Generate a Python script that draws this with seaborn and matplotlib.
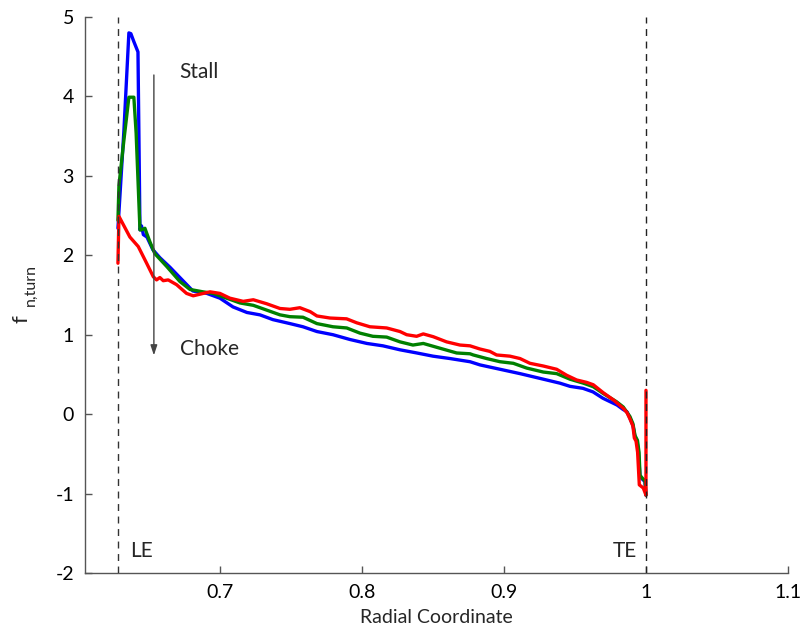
import numpy as np
import pandas as pd
import matplotlib
matplotlib.use("Agg")
import matplotlib.pyplot as plt
import seaborn as sns

# Normal turning-force distribution along the radial coordinate for three operating points
blue_x = [0.6282, 0.6324, 0.6359, 0.6373, 0.6394, 0.6423, 0.6437, 0.6448, 0.6461, 0.6486,
          0.6528, 0.6577, 0.6648, 0.6718, 0.6810, 0.6908, 0.7000, 0.7092, 0.7190, 0.7282,
          0.7373, 0.7493, 0.7585, 0.7683, 0.7796, 0.7915, 0.8035, 0.8148, 0.8268, 0.8387,
          0.8500, 0.8620, 0.8761, 0.8831, 0.8972, 0.9113, 0.9254, 0.9394, 0.9465, 0.9556,
          0.9627, 0.9697, 0.9796, 0.9838, 0.9866, 0.9887, 0.9908, 0.9923, 0.9937, 0.9947,
          0.9958, 0.9993, 1.0000]
blue_y = [2.34, 3.57, 4.80, 4.79, 4.69, 4.56, 2.32, 2.37, 2.26, 2.23,
          2.07, 1.97, 1.85, 1.72, 1.55, 1.52, 1.46, 1.35, 1.28, 1.25,
          1.19, 1.14, 1.10, 1.04, 1.00, 0.94, 0.89, 0.86, 0.81, 0.77,
          0.73, 0.70, 0.66, 0.62, 0.565, 0.51, 0.45, 0.39, 0.35, 0.325,
          0.28, 0.20, 0.115, 0.06, 0.03, -0.05, -0.14, -0.29, -0.34, -0.48,
          -0.79, -0.85, -1.02]

green_x = [0.6282, 0.6289, 0.6324, 0.6359, 0.6394, 0.6410, 0.6437, 0.6448, 0.6472, 0.6484,
           0.6507, 0.6542, 0.6625, 0.6718, 0.6789, 0.6880, 0.6953, 0.7047, 0.7141, 0.7235,
           0.7329, 0.7423, 0.7493, 0.7585, 0.7683, 0.7796, 0.7893, 0.7986, 0.8077, 0.8174,
           0.8268, 0.8359, 0.8432, 0.8549, 0.8667, 0.8761, 0.8784, 0.8878, 0.8972, 0.9066,
           0.9160, 0.9277, 0.9371, 0.9465, 0.9559, 0.9629, 0.9699, 0.9793, 0.9840, 0.9887,
           0.9908, 0.9923, 0.9940, 0.9951, 0.9958, 0.9981, 0.9993, 1.0000]
green_y = [2.44, 2.88, 3.45, 3.99, 3.99, 3.54, 2.32, 2.32, 2.34, 2.28,
           2.17, 2.02, 1.86, 1.67, 1.57, 1.54, 1.52, 1.46, 1.40, 1.37,
           1.31, 1.25, 1.227, 1.22, 1.14, 1.10, 1.085, 1.02, 0.98, 0.97,
           0.91, 0.87, 0.89, 0.83, 0.77, 0.76, 0.745, 0.70, 0.66, 0.64,
           0.58, 0.53, 0.51, 0.44, 0.39, 0.345, 0.26, 0.156, 0.09, -0.03,
           -0.12, -0.27, -0.33, -0.48, -0.77, -0.82, -0.83, -1.02]

red_x = [0.6282, 0.6289, 0.6366, 0.6425, 0.6484, 0.6531, 0.6554, 0.6577, 0.6601, 0.6636,
         0.6695, 0.6765, 0.6812, 0.6930, 0.7000, 0.7070, 0.7164, 0.7235, 0.7329, 0.7423,
         0.7493, 0.7563, 0.7636, 0.7683, 0.7775, 0.7892, 0.7963, 0.8056, 0.8174, 0.8268,
         0.8315, 0.8385, 0.8432, 0.8502, 0.8596, 0.8690, 0.8761, 0.8831, 0.8901, 0.8948,
         0.9042, 0.9113, 0.9183, 0.9277, 0.9371, 0.9441, 0.9512, 0.9582, 0.9629, 0.9699,
         0.9770, 0.9840, 0.9866, 0.9887, 0.9908, 0.9918, 0.9930, 0.9941, 0.9953, 0.9981,
         1.0000, 1.0000]
red_y = [1.90, 2.49, 2.23, 2.11, 1.90, 1.73, 1.69, 1.72, 1.68, 1.69,
         1.63, 1.52, 1.49, 1.54, 1.52, 1.46, 1.42, 1.44, 1.39, 1.33,
         1.32, 1.34, 1.29, 1.236, 1.21, 1.20, 1.15, 1.10, 1.085, 1.04,
         1.00, 0.98, 1.01, 0.975, 0.91, 0.87, 0.86, 0.82, 0.79, 0.745,
         0.73, 0.70, 0.64, 0.606, 0.565, 0.49, 0.43, 0.40, 0.37, 0.27,
         0.18, 0.074, 0.02, -0.06, -0.15, -0.30, -0.34, -0.48, -0.89, -0.93,
         -1.02, 0.30]

x_ticks = [0.7, 0.8, 0.9, 1.0, 1.1]
x_tick_labels = ["0.7", "0.8", "0.9", "1", "1.1"]
y_ticks = [-2, -1, 0, 1, 2, 3, 4, 5]
y_tick_labels = ["-2", "-1", "0", "1", "2", "3", "4", "5"]

le_x = 0.628
te_x = 1.0

sns.set_style("ticks")
plt.rcParams["font.family"] = ["Lato", "DejaVu Sans"]

series = {
    "blue": (blue_x, blue_y, "#0000ff"),
    "green": (green_x, green_y, "#008000"),
    "red": (red_x, red_y, "#ff0000"),
}

fig = plt.figure(figsize=(8.01, 6.31), dpi=100)
ax = fig.add_axes([85 / 801, 1 - 573 / 631, (788 - 85) / 801, (573 - 17) / 631])

# Draw in order so red lies on top, then green, then blue
for name, (xs, ys, col) in series.items():
    df = pd.DataFrame({"r": xs, "f": ys})
    sns.lineplot(data=df, x="r", y="f", color=col, estimator=None, sort=False,
                 linewidth=2.4, ax=ax, legend=False)

ax.axvline(le_x, color="#333333", linestyle=(0, (5, 4)), linewidth=1.0, zorder=5)
ax.axvline(te_x, color="#222222", linestyle=(0, (5, 4)), linewidth=1.0, zorder=5)

ax.annotate("", xy=(0.6535, 0.74), xytext=(0.6535, 4.27),
            arrowprops=dict(arrowstyle="-|>,head_length=0.6,head_width=0.2",
                            color="#444444", lw=1.0, shrinkA=0, shrinkB=0))
ax.text(0.6715, 4.31, "Stall", fontsize=15, va="center", ha="left")
ax.text(0.6722, 0.82, "Choke", fontsize=15, va="center", ha="left")
ax.text(0.6365, -1.72, "LE", fontsize=15, va="center", ha="left")
ax.text(0.9935, -1.72, "TE", fontsize=15, va="center", ha="right")

ax.set_xlim(0.605, 1.1)
ax.set_ylim(-2, 5)
ax.set_xticks(x_ticks)
ax.set_xticklabels(x_tick_labels)
ax.set_yticks(y_ticks)
ax.set_yticklabels(y_tick_labels)
ax.tick_params(direction="in", length=5, width=1, color="#555555", labelsize=14,
               labelcolor="black", pad=8)
ax.set_xlabel("Radial Coordinate", fontsize=14, labelpad=6)
ax.set_ylabel("")

# y label: "f" with a subscript "n,turn", both rotated
fig.text(21 / 801, 1 - 319 / 631, "f", rotation=90, fontsize=16,
         ha="center", va="center")
fig.text(31 / 801, 1 - 306 / 631, "n,turn", rotation=90, fontsize=11.5,
         ha="center", va="bottom")

sns.despine(ax=ax)
for side in ["left", "bottom"]:
    ax.spines[side].set_color("#555555")
    ax.spines[side].set_linewidth(1.0)

fig.savefig("out.png", dpi=100)
